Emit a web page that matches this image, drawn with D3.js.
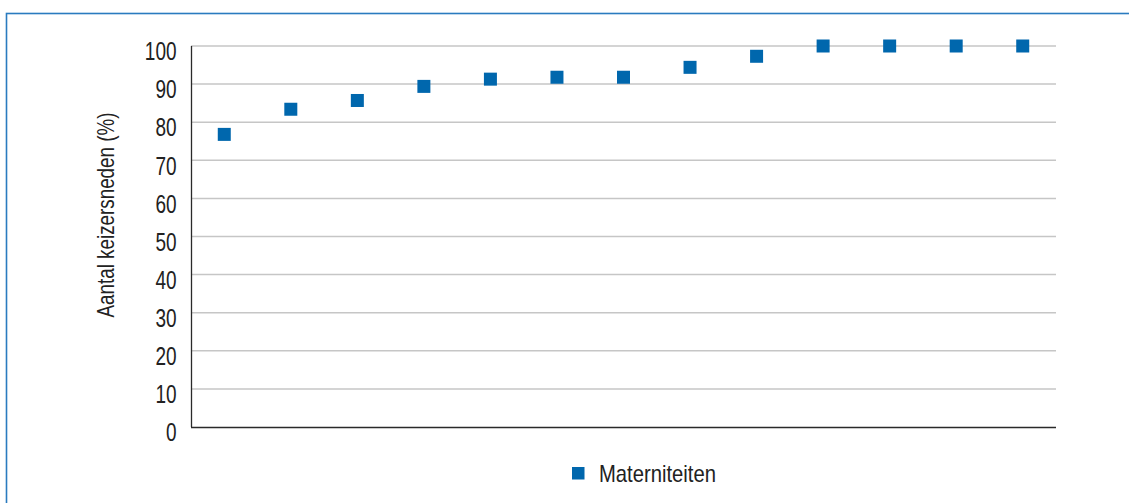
<!DOCTYPE html>
<html>
<head>
<meta charset="utf-8">
<script src="https://cdn.jsdelivr.net/npm/d3@7"></script>
<style>
  html, body { margin: 0; padding: 0; background: #fff; }
  svg { display: block; }
  text { font-family: "Liberation Sans", Arial, sans-serif; fill: #222; }
</style>
</head>
<body>
<svg id="chart" width="1129" height="503"></svg>
<script>
// Caesarean section rate per maternity unit, sorted ascending
const units = ["M1","M2","M3","M4","M5","M6","M7","M8","M9","M10","M11","M12","M13"];
const rates = [76.8, 83.4, 85.7, 89.4, 91.3, 91.8, 91.8, 94.4, 97.3, 100, 100, 100, 100];
const yTicks = [0, 10, 20, 30, 40, 50, 60, 70, 80, 90, 100];
const seriesName = "Materniteiten";
const yTitle = "Aantal keizersneden (%)";

const W = 1129, H = 503;
const plot = { left: 191, right: 1056, top: 46, bottom: 427 };
const blue = "#0067ad";
const narrow = 0.76; // horizontal squeeze for a condensed look

const svg = d3.select("#chart");

// outer frame (top and left edges visible)
svg.append("rect")
  .attr("x", 6.5).attr("y", 13.5)
  .attr("width", W + 20).attr("height", H + 20)
  .attr("fill", "none")
  .attr("stroke", "#2a7bbf")
  .attr("stroke-width", 1.6);

const x = d3.scaleBand().domain(units).range([plot.left, plot.right]);
const y = d3.scaleLinear().domain([0, 100]).range([plot.bottom, plot.top]);

// horizontal gridlines
svg.append("g")
  .selectAll("line")
  .data(yTicks.filter(t => t > 0))
  .join("line")
  .attr("x1", plot.left).attr("x2", plot.right)
  .attr("y1", d => y(d)).attr("y2", d => y(d))
  .attr("stroke", "#c6c6c6")
  .attr("stroke-width", 1.5);

// y axis
const yAxis = d3.axisLeft(y).tickValues(yTicks).tickSize(0).tickPadding(0);
const gy = svg.append("g").attr("transform", `translate(${plot.left},0)`).call(yAxis);
gy.select(".domain").remove();
gy.selectAll(".tick text")
  .attr("x", -14.5 / narrow)
  .attr("transform", `scale(${narrow},1)`)
  .attr("font-size", 25)
  .attr("dy", "0.55em")
  .attr("fill", "#222")
  .style("font-family", "'Liberation Sans', Arial, sans-serif");

// axis lines
svg.append("line")
  .attr("x1", plot.left + 0.5).attr("x2", plot.left + 0.5)
  .attr("y1", plot.top).attr("y2", plot.bottom)
  .attr("stroke", "#2a2a2a").attr("stroke-width", 1.3);
svg.append("line")
  .attr("x1", plot.left).attr("x2", plot.right)
  .attr("y1", plot.bottom + 0.5).attr("y2", plot.bottom + 0.5)
  .attr("stroke", "#2a2a2a").attr("stroke-width", 1.5);

// y axis title
svg.append("text")
  .attr("transform", `translate(114,215) rotate(-90)`)
  .attr("text-anchor", "middle")
  .attr("font-size", 24)
  .attr("textLength", 205)
  .attr("lengthAdjust", "spacingAndGlyphs")
  .text(yTitle);

// markers
const size = 13;
svg.append("g")
  .selectAll("rect")
  .data(units.map((u, i) => ({ u, v: rates[i] })))
  .join("rect")
  .attr("x", d => x(d.u) + x.bandwidth() / 2 - size / 2)
  .attr("y", d => y(d.v) - size / 2)
  .attr("width", size).attr("height", size)
  .attr("fill", blue);

// legend
const lg = svg.append("g").attr("transform", "translate(572,467)");
lg.append("rect").attr("width", 12.5).attr("height", 12.5).attr("fill", blue);
lg.append("text")
  .attr("x", 27).attr("y", 15)
  .attr("font-size", 24)
  .attr("textLength", 117)
  .attr("lengthAdjust", "spacingAndGlyphs")
  .text(seriesName);
</script>
</body>
</html>
